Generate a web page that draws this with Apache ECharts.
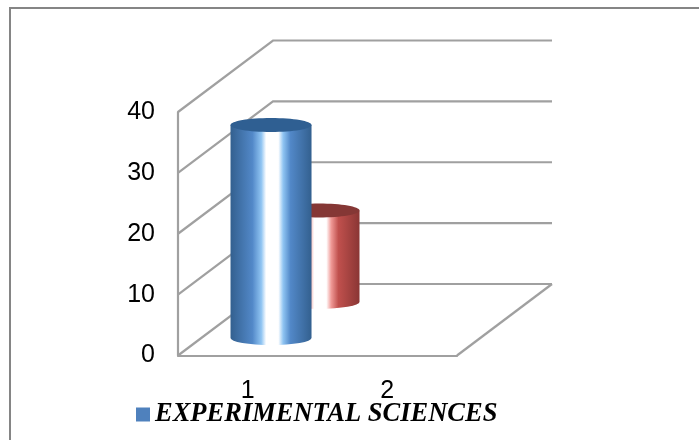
<!DOCTYPE html>
<html>
<head>
<meta charset="utf-8">
<style>
  html, body { margin: 0; padding: 0; background: #fff; }
  #chart { width: 699px; height: 440px; }
</style>
<script src="https://cdn.jsdelivr.net/npm/echarts@6/dist/echarts.min.js"></script>
</head>
<body>
<div id="chart"></div>
<script>
const categories = ['1', '2'];
const yTicks = [0, 10, 20, 30, 40];
const blueName = 'EXPERIMENTAL SCIENCES';
const blueValues = [35, null];
const redValues = [15, null];

// how far the floor runs back into the picture, in pixels
const DEPTH_X = 95;
const DEPTH_Y = 71.5;
const GRID_COLOR = '#a0a0a0';

const cylinderFill = (dark, mid, light) => ({
    type: 'linear', x: 0, y: 0, x2: 1, y2: 0,
    colorStops: [
        { offset: 0, color: dark },
        { offset: 0.27, color: mid },
        { offset: 0.38, color: light },
        { offset: 0.44, color: '#ffffff' },
        { offset: 0.59, color: '#ffffff' },
        { offset: 0.65, color: light },
        { offset: 0.74, color: mid },
        { offset: 1, color: dark }
    ]
});

// the cylinders share category 1, each sits at its own depth on the floor
const cylinder = (depth, top, fill) => (params, api) => {
    const value = api.value(1);
    if (value == null || isNaN(value)) return;
    const base = api.coord([api.value(0), 0]);
    const head = api.coord([api.value(0), value]);
    const cx = base[0] + DEPTH_X * depth;
    const rx = 40.5;
    const ry = 7;
    const yBase = base[1] - DEPTH_Y * depth;
    const yHead = head[1] - DEPTH_Y * depth;
    return {
        type: 'group',
        children: [
            {
                type: 'path',
                shape: {
                    pathData: `M${cx - rx} ${yHead} L${cx - rx} ${yBase} A${rx} ${ry} 0 0 0 ${cx + rx} ${yBase} L${cx + rx} ${yHead} Z`
                },
                style: { fill: fill }
            },
            {
                type: 'ellipse',
                shape: { cx: cx, cy: yHead, rx: rx, ry: ry },
                style: { fill: top }
            }
        ]
    };
};

// walls and floor, one item per y tick
const renderWalls = (params, api) => {
    const v = api.value(0);
    const p = api.coord([0, v]);
    const sys = params.coordSys;
    const left = sys.x;
    const children = [];
    const line = (points) => children.push({
        type: 'polyline',
        shape: { points: points },
        style: { stroke: GRID_COLOR, lineWidth: 2.2, fill: null }
    });
    line([[left, p[1]], [left + DEPTH_X, p[1] - DEPTH_Y], [left + sys.width + DEPTH_X, p[1] - DEPTH_Y]]);
    if (v === 0) {
        line([[left + sys.width, p[1]], [left + sys.width + DEPTH_X, p[1] - DEPTH_Y]]);
    }
    return { type: 'group', children: children };
};

const chart = echarts.init(document.getElementById('chart'));

chart.setOption({
    animation: false,
    backgroundColor: '#fff',
    graphic: [{
        type: 'polyline',
        silent: true,
        shape: { points: [[10, 440], [10, 8], [699, 8]] },
        style: { stroke: '#858585', lineWidth: 2, fill: null }
    }],
    legend: {
        data: [blueName],
        left: 136,
        top: 401,
        padding: 0,
        itemWidth: 14,
        itemHeight: 14,
        itemGap: 5,
        icon: 'rect',
        textStyle: {
            fontFamily: '"Liberation Serif"',
            fontStyle: 'italic',
            fontWeight: 'bold',
            fontSize: 26.5,
            color: '#000'
        }
    },
    grid: { left: 178, top: 112, width: 279, height: 243.5 },
    xAxis: {
        type: 'category',
        data: categories,
        axisTick: { show: false },
        axisLine: { lineStyle: { color: GRID_COLOR, width: 2.2 } },
        axisLabel: {
            margin: 23,
            fontFamily: '"Liberation Sans"',
            fontSize: 25,
            color: '#000'
        }
    },
    yAxis: {
        type: 'value',
        min: 0,
        max: 40,
        interval: 10,
        splitLine: { show: false },
        axisTick: { show: false },
        axisLine: { show: true, lineStyle: { color: GRID_COLOR, width: 2.2 } },
        axisLabel: {
            margin: 23,
            padding: [5, 0, 0, 0],
            fontFamily: '"Liberation Sans"',
            fontSize: 25,
            color: '#000'
        }
    },
    series: [
        {
            type: 'custom',
            silent: true,
            clip: false,
            z: 1,
            renderItem: renderWalls,
            encode: { y: 0 },
            data: yTicks.map(t => [t])
        },
        {
            type: 'custom',
            name: 'depth2',
            silent: true,
            clip: false,
            z: 2,
            renderItem: cylinder(0.75, '#853735', cylinderFill('#8a3634', '#c0504d', '#f09a97')),
            encode: { x: 0, y: 1 },
            data: redValues.map((v, i) => [i, v])
        },
        {
            type: 'custom',
            name: blueName,
            silent: true,
            clip: false,
            z: 3,
            itemStyle: { color: '#4f81bd' },
            renderItem: cylinder(0.245, '#2f5f92', cylinderFill('#33608f', '#5288c8', '#8fc4f2')),
            encode: { x: 0, y: 1 },
            data: blueValues.map((v, i) => [i, v])
        }
    ]
});
</script>
</body>
</html>
